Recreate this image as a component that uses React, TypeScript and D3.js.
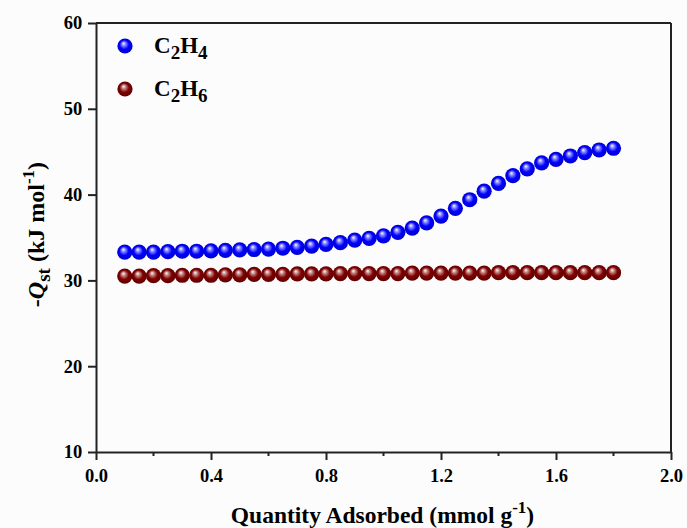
import React, { useRef, useEffect } from "react";
import * as d3 from "d3";

const loading = [0.1, 0.15, 0.2, 0.25, 0.3, 0.35, 0.4, 0.45, 0.5, 0.55, 0.6, 0.65, 0.7, 0.75, 0.8, 0.85, 0.9, 0.95, 1.0, 1.05, 1.1, 1.15, 1.2, 1.25, 1.3, 1.35, 1.4, 1.45, 1.5, 1.55, 1.6, 1.65, 1.7, 1.75, 1.8];
const qstC2H4 = [33.3, 33.3, 33.3, 33.35, 33.4, 33.4, 33.45, 33.5, 33.55, 33.6, 33.65, 33.75, 33.85, 34.0, 34.2, 34.4, 34.7, 34.9, 35.2, 35.6, 36.1, 36.7, 37.5, 38.4, 39.4, 40.4, 41.3, 42.2, 43.0, 43.7, 44.1, 44.5, 44.9, 45.2, 45.4];
const qstC2H6 = [30.5, 30.5, 30.55, 30.55, 30.6, 30.6, 30.6, 30.65, 30.65, 30.7, 30.7, 30.7, 30.75, 30.75, 30.75, 30.8, 30.8, 30.8, 30.8, 30.8, 30.85, 30.85, 30.85, 30.85, 30.85, 30.85, 30.9, 30.9, 30.9, 30.9, 30.9, 30.9, 30.9, 30.9, 30.9];
const xTicks = [0.0, 0.4, 0.8, 1.2, 1.6, 2.0];
const xMinor = [0.2, 0.6, 1.0, 1.4, 1.8];
const yTicks = [10, 20, 30, 40, 50, 60];

const FONT = "'Liberation Serif', 'Times New Roman', serif";

const App = () => {
  const svgRef = useRef(null);
  const width = 687, height = 528;
  const m = { left: 96, right: 16, top: 23, bottom: 76 };

  useEffect(() => {
    const svg = d3.select(svgRef.current);
    svgRef.current.querySelectorAll("*").forEach((n) => n.remove());

    const x = d3.scaleLinear().domain([0, 2]).range([m.left, width - m.right]);
    const y = d3.scaleLinear().domain([10, 60]).range([height - m.bottom, m.top]);

    // ball gradients
    const defs = svg.append("defs");
    const grad = (id, base, light, dark) => {
      const g = defs.append("radialGradient").attr("id", id)
        .attr("cx", "50%").attr("cy", "50%").attr("r", "55%")
        .attr("fx", "40%").attr("fy", "32%");
      g.append("stop").attr("offset", "0%").attr("stop-color", "#ffffff");
      g.append("stop").attr("offset", "22%").attr("stop-color", light);
      g.append("stop").attr("offset", "55%").attr("stop-color", base);
      g.append("stop").attr("offset", "100%").attr("stop-color", dark);
    };
    grad("ballBlue", "#0000ff", "#8c8cff", "#0000c8");
    grad("ballRed", "#800000", "#c48c8c", "#5a0000");

    const axisColor = "#222";

    // x axis
    const xAxis = d3.axisBottom(x).tickValues(xTicks).tickSizeInner(8).tickSizeOuter(0)
      .tickFormat(d3.format(".1f"));
    const gx = svg.append("g").attr("transform", `translate(0,${y(10)})`).call(xAxis);
    gx.select(".domain").attr("stroke", axisColor).attr("stroke-width", 2);
    gx.selectAll(".tick line").attr("stroke", axisColor).attr("stroke-width", 2);
    gx.selectAll(".tick text").attr("font-family", FONT).attr("font-weight", "bold")
      .attr("font-size", 18.5).attr("fill", "#000").attr("dy", "1.02em");
    gx.selectAll(".minor").data(xMinor).join("line")
      .attr("x1", (d) => x(d)).attr("x2", (d) => x(d)).attr("y1", 0).attr("y2", 4)
      .attr("stroke", axisColor).attr("stroke-width", 2);

    // y axis
    const yAxis = d3.axisLeft(y).tickValues(yTicks).tickSizeInner(8).tickSizeOuter(0);
    const gy = svg.append("g").attr("transform", `translate(${x(0)},0)`).call(yAxis);
    gy.select(".domain").attr("stroke", axisColor).attr("stroke-width", 2);
    gy.selectAll(".tick line").attr("stroke", axisColor).attr("stroke-width", 2);
    gy.selectAll(".tick text").attr("font-family", FONT).attr("font-weight", "bold")
      .attr("font-size", 18.5).attr("fill", "#000").attr("dx", "-0.15em");

    // top and right borders
    svg.append("line").attr("x1", x(0)).attr("x2", x(2)).attr("y1", y(60)).attr("y2", y(60))
      .attr("stroke", axisColor).attr("stroke-width", 2);
    svg.append("line").attr("x1", x(2)).attr("x2", x(2)).attr("y1", y(60)).attr("y2", y(10))
      .attr("stroke", axisColor).attr("stroke-width", 2);

    // series
    const r = 7.6;
    const series = [
      { name: "C2H4", values: qstC2H4, fill: "url(#ballBlue)" },
      { name: "C2H6", values: qstC2H6, fill: "url(#ballRed)" },
    ];
    series.forEach((s) => {
      svg.append("g").selectAll("circle").data(loading).join("circle")
        .attr("cx", (d) => x(d)).attr("cy", (_, i) => y(s.values[i]))
        .attr("r", r).attr("fill", s.fill);
    });

    // legend
    const leg = svg.append("g");
    const sub = [["C", "2", "H", "4"], ["C", "2", "H", "6"]];
    series.forEach((s, i) => {
      const ly = 46 + i * 43;
      leg.append("circle").attr("cx", 125).attr("cy", ly).attr("r", r).attr("fill", s.fill);
      const t = leg.append("text").attr("x", 154).attr("y", ly + 7)
        .attr("font-family", FONT).attr("font-weight", "bold").attr("font-size", 23);
      t.append("tspan").text(sub[i][0]);
      t.append("tspan").attr("dy", 6).attr("font-size", 19).text(sub[i][1]);
      t.append("tspan").attr("dy", -6).text(sub[i][2]);
      t.append("tspan").attr("dy", 6).attr("font-size", 19).text(sub[i][3]);
    });

    // x title
    const xt = svg.append("text").attr("x", (x(0) + x(2)) / 2 - 1).attr("y", 523)
      .attr("text-anchor", "middle").attr("font-family", FONT).attr("font-weight", "bold")
      .attr("font-size", 23.5);
    xt.append("tspan").text("Quantity Adsorbed (mmol g");
    xt.append("tspan").attr("dy", -10).attr("font-size", 17).text("-1");
    xt.append("tspan").attr("dy", 10).text(")");

    // y title
    const yt = svg.append("text").attr("transform", `translate(44,${(y(10) + y(60)) / 2 - 3}) rotate(-90)`)
      .attr("text-anchor", "middle").attr("font-family", FONT).attr("font-weight", "bold")
      .attr("font-size", 24);
    yt.append("tspan").text("-");
    yt.append("tspan").attr("font-style", "italic").text("Q");
    yt.append("tspan").attr("dy", 6).attr("font-size", 19).text("st");
    yt.append("tspan").attr("dy", -6).text(" (kJ mol");
    yt.append("tspan").attr("dy", -10).attr("font-size", 17).text("-1");
    yt.append("tspan").attr("dy", 10).text(")");
  }, []);

  return (
    <svg ref={svgRef} width={width} height={height}
      style={{ position: "absolute", left: 0, top: 0, background: "#fcfcfc" }} />
  );
};

export default App;
